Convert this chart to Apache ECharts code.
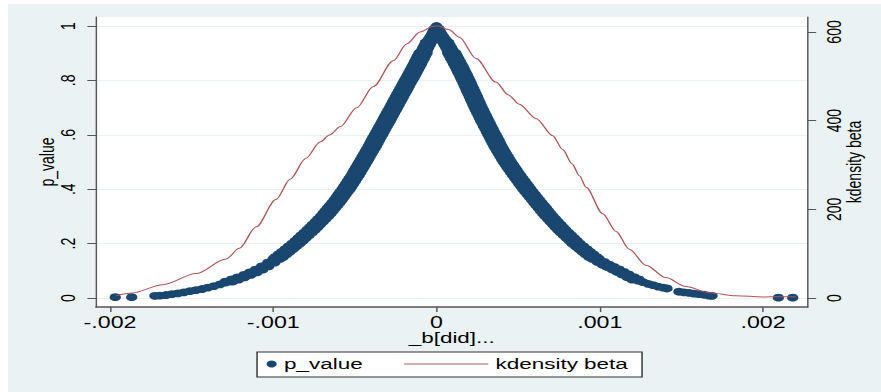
<!DOCTYPE html>
<html>
<head>
<meta charset="utf-8">
<script src="https://cdn.jsdelivr.net/npm/echarts@6/dist/echarts.min.js"></script>
<style>
  html, body { margin: 0; padding: 0; background: #fff; }
  #bg { position: absolute; left: 8px; top: 4px; width: 873px; height: 388px; background: #eaf2f3; }
  /* the original graph was stretched sideways, so draw narrow and scale x */
  #main { position: absolute; left: 0; top: 0; width: 608px; height: 392px; transform: scaleX(1.449); transform-origin: 0 0; }
</style>
</head>
<body>
<div id="bg"></div>
<div id="main"></div>
<script>
// p_value against _b[did]: the steep part is read as two edges of the band
const steepP = [
  0.99, 0.98, 0.97, 0.96, 0.95, 0.94, 0.93, 0.92, 0.91, 0.90,
  0.89, 0.88, 0.87, 0.86, 0.85, 0.84, 0.83, 0.82, 0.81, 0.80,
  0.79, 0.78, 0.77, 0.76, 0.75, 0.74, 0.73, 0.72, 0.71, 0.70,
  0.69, 0.68, 0.67, 0.66, 0.65, 0.64, 0.63, 0.62, 0.61, 0.60,
  0.59, 0.58, 0.57, 0.56, 0.55, 0.54, 0.53, 0.52, 0.51, 0.50,
  0.49, 0.48, 0.47, 0.46, 0.45, 0.44, 0.43, 0.42, 0.41, 0.40,
  0.39, 0.38, 0.37, 0.36, 0.35, 0.34, 0.33, 0.32, 0.31, 0.30,
  0.29, 0.28, 0.27, 0.26, 0.25, 0.24, 0.23, 0.22, 0.21, 0.20,
  0.19, 0.18, 0.17, 0.16, 0.15
];
const leftEdgeA = [
  -0.000002, -0.000022, -0.000018, -0.000040, -0.000028, -0.000067, -0.000039, -0.000084, -0.000056, -0.000108,
  -0.000067, -0.000125, -0.000084, -0.000142, -0.000101, -0.000160, -0.000119, -0.000178, -0.000137, -0.000197,
  -0.000156, -0.000215, -0.000174, -0.000233, -0.000193, -0.000252, -0.000211, -0.000270, -0.000229, -0.000288,
  -0.000247, -0.000307, -0.000266, -0.000325, -0.000284, -0.000343, -0.000303, -0.000362, -0.000321, -0.000380,
  -0.000340, -0.000399, -0.000358, -0.000417, -0.000376, -0.000436, -0.000396, -0.000456, -0.000415, -0.000475,
  -0.000435, -0.000495, -0.000455, -0.000514, -0.000474, -0.000535, -0.000496, -0.000557, -0.000518, -0.000579,
  -0.000542, -0.000604, -0.000566, -0.000628, -0.000591, -0.000655, -0.000619, -0.000683, -0.000647, -0.000711,
  -0.000678, -0.000744, -0.000711, -0.000777, -0.000744, -0.000812, -0.000781, -0.000849, -0.000817, -0.000886,
  -0.000857, -0.000927, -0.000898, -0.000969, -0.000940
];
const leftEdgeB = [
  -0.000014, -0.000010, -0.000030, -0.000024, -0.000052, -0.000031, -0.000075, -0.000048, -0.000092, -0.000058,
  -0.000117, -0.000075, -0.000134, -0.000092, -0.000151, -0.000110, -0.000169, -0.000128, -0.000187, -0.000147,
  -0.000206, -0.000165, -0.000224, -0.000183, -0.000243, -0.000202, -0.000261, -0.000220, -0.000279, -0.000238,
  -0.000297, -0.000257, -0.000316, -0.000275, -0.000334, -0.000293, -0.000353, -0.000312, -0.000371, -0.000330,
  -0.000390, -0.000349, -0.000408, -0.000367, -0.000426, -0.000386, -0.000446, -0.000406, -0.000465, -0.000425,
  -0.000485, -0.000445, -0.000505, -0.000464, -0.000524, -0.000485, -0.000546, -0.000507, -0.000568, -0.000529,
  -0.000592, -0.000554, -0.000616, -0.000578, -0.000641, -0.000605, -0.000669, -0.000633, -0.000697, -0.000661,
  -0.000728, -0.000694, -0.000761, -0.000727, -0.000794, -0.000762, -0.000831, -0.000799, -0.000867, -0.000836,
  -0.000907, -0.000877, -0.000948, -0.000919, -0.000990
];
const rightEdgeA = [
  0.000003, 0.000024, 0.000022, 0.000045, 0.000034, 0.000074, 0.000047, 0.000093, 0.000066, 0.000119,
  0.000078, 0.000137, 0.000096, 0.000155, 0.000114, 0.000172, 0.000130, 0.000189, 0.000147, 0.000205,
  0.000163, 0.000220, 0.000178, 0.000235, 0.000193, 0.000251, 0.000208, 0.000266, 0.000223, 0.000281,
  0.000239, 0.000297, 0.000256, 0.000314, 0.000272, 0.000331, 0.000289, 0.000348, 0.000306, 0.000365,
  0.000324, 0.000383, 0.000341, 0.000400, 0.000359, 0.000419, 0.000379, 0.000439, 0.000399, 0.000459,
  0.000421, 0.000482, 0.000444, 0.000505, 0.000467, 0.000529, 0.000492, 0.000554, 0.000517, 0.000579,
  0.000542, 0.000606, 0.000569, 0.000633, 0.000596, 0.000660, 0.000624, 0.000687, 0.000651, 0.000715,
  0.000681, 0.000746, 0.000712, 0.000777, 0.000743, 0.000810, 0.000778, 0.000845, 0.000813, 0.000880,
  0.000851, 0.000922, 0.000892, 0.000963, 0.000934
];
const rightEdgeB = [
  0.000015, 0.000012, 0.000034, 0.000029, 0.000058, 0.000038, 0.000083, 0.000057, 0.000102, 0.000069,
  0.000128, 0.000087, 0.000146, 0.000105, 0.000164, 0.000122, 0.000180, 0.000139, 0.000197, 0.000155,
  0.000213, 0.000170, 0.000228, 0.000185, 0.000243, 0.000201, 0.000258, 0.000216, 0.000273, 0.000231,
  0.000289, 0.000247, 0.000306, 0.000264, 0.000322, 0.000281, 0.000339, 0.000298, 0.000356, 0.000315,
  0.000374, 0.000333, 0.000391, 0.000350, 0.000409, 0.000369, 0.000429, 0.000389, 0.000449, 0.000409,
  0.000471, 0.000432, 0.000494, 0.000455, 0.000517, 0.000479, 0.000542, 0.000504, 0.000567, 0.000529,
  0.000592, 0.000556, 0.000619, 0.000583, 0.000646, 0.000610, 0.000674, 0.000637, 0.000701, 0.000665,
  0.000731, 0.000696, 0.000762, 0.000727, 0.000793, 0.000760, 0.000828, 0.000795, 0.000863, 0.000830,
  0.000901, 0.000872, 0.000942, 0.000913, 0.000984
];
const leftTailBeta = [
  -0.001001, -0.000957, -0.000995, -0.001034, -0.000990, -0.001032, -0.001072, -0.001028, -0.001069, -0.001109,
  -0.001065, -0.001106, -0.001144, -0.001100, -0.001142, -0.001180, -0.001136, -0.001179, -0.001219, -0.001175,
  -0.001216, -0.001256, -0.001212, -0.001253, -0.001294, -0.001250, -0.001289, -0.001326, -0.001363, -0.001400,
  -0.001436, -0.001473, -0.001510, -0.001547, -0.001583, -0.001620, -0.001657, -0.001694, -0.001725, -0.001867,
  -0.001968
];
const leftTailP = [
  0.144, 0.144, 0.137, 0.130, 0.130, 0.122, 0.116, 0.116, 0.110, 0.104,
  0.104, 0.098, 0.094, 0.094, 0.089, 0.085, 0.085, 0.080, 0.076, 0.076,
  0.072, 0.068, 0.068, 0.064, 0.060, 0.060, 0.057, 0.050, 0.044, 0.038,
  0.033, 0.029, 0.025, 0.021, 0.017, 0.014, 0.011, 0.009, 0.008, 0.003,
  0.003
];
const rightTailBeta = [
  0.000953, 0.000997, 0.000989, 0.000984, 0.001028, 0.001020, 0.001014, 0.001058, 0.001051, 0.001044,
  0.001088, 0.001082, 0.001076, 0.001120, 0.001112, 0.001105, 0.001149, 0.001143, 0.001134, 0.001178,
  0.001173, 0.001166, 0.001210, 0.001204, 0.001197, 0.001241, 0.001234, 0.001265, 0.001296, 0.001326,
  0.001357, 0.001388, 0.001412, 0.001485, 0.001516, 0.001547, 0.001577, 0.001608, 0.001639, 0.001669,
  0.001688, 0.002094, 0.002182
];
const rightTailP = [
  0.144, 0.144, 0.139, 0.133, 0.133, 0.128, 0.123, 0.123, 0.118, 0.114,
  0.114, 0.110, 0.105, 0.105, 0.101, 0.096, 0.096, 0.091, 0.087, 0.087,
  0.082, 0.077, 0.077, 0.072, 0.068, 0.068, 0.064, 0.058, 0.052, 0.047,
  0.042, 0.038, 0.035, 0.023, 0.021, 0.019, 0.016, 0.014, 0.012, 0.009,
  0.008, 0.001, 0.001
];
const peakPoint = [0, 1];

// kdensity of beta
const kdBeta = [
  -0.001963, -0.001867, -0.001677, -0.001473, -0.001289, -0.001208, -0.001106, -0.000983, -0.000897, -0.000800,
  -0.000714, -0.000652, -0.000591, -0.000489, -0.000387, -0.000265, -0.000183, -0.000101, -0.000020, 0.000005,
  0.000078, 0.000140, 0.000242, 0.000364, 0.000440, 0.000507, 0.000609, 0.000712, 0.000773, 0.000830,
  0.000875, 0.000916, 0.001018, 0.001100, 0.001181, 0.001283, 0.001405, 0.001528, 0.001671, 0.001835,
  0.001998, 0.002121, 0.002202
];
const kdDensity = [
  5, 11, 30, 55, 88, 112, 160, 222, 268, 315,
  352, 368, 386, 429, 477, 535, 573, 600, 613, 614,
  605, 588, 540, 487, 458, 437, 405, 366, 335, 303,
  276, 250, 190, 150, 110, 74, 46, 26, 12, 5,
  2.5, 3, 3
];

const xTicks = [-0.002, -0.001, 0, 0.001, 0.002];
const pTicks = [0, 0.2, 0.4, 0.6, 0.8, 1];
const densityTicks = [0, 200, 400, 600];

const font = "'Liberation Sans', Arial, sans-serif";
const axisColor = '#555';
const navy = '#1a476f';
const maroon = '#ad5458';

// stata style numbers: .2, -.001
function stataNum(v, digits) {
  const t = (+v.toFixed(digits)).toString();
  return t.replace(/^(-?)0\./, '$1.');
}

const pairs = (xs, ys) => xs.map((x, i) => [x, ys[i]]);
const scatterData = [peakPoint].concat(
  pairs(leftEdgeA, steepP), pairs(leftEdgeB, steepP),
  pairs(rightEdgeA, steepP), pairs(rightEdgeB, steepP),
  pairs(leftTailBeta, leftTailP), pairs(rightTailBeta, rightTailP)
);

const chart = echarts.init(document.getElementById('main'), null, { renderer: 'svg' });

chart.setOption({
  animation: false,
  backgroundColor: 'transparent',
  textStyle: { fontFamily: font },
  grid: {
    left: 66.25, right: 50.72, top: 17, bottom: 85,
    show: true, backgroundColor: '#fff', borderWidth: 0,
    outerBoundsMode: 'none'
  },
  graphic: [{
    type: 'rect',
    shape: { x: 177.4, y: 352, width: 265.7, height: 25 },
    style: { fill: '#fff', stroke: '#333', lineWidth: 1 }
  }],
  legend: [{
    left: 184, top: 356, padding: 0,
    itemWidth: 7, itemHeight: 7,
    selectedMode: false,
    data: [{ name: 'p_value', icon: 'circle' }],
    textStyle: { fontSize: 15.5, color: '#000', fontFamily: font }
  }, {
    left: 279, top: 356, padding: 0,
    itemWidth: 58, itemHeight: 1.2,
    selectedMode: false,
    data: [{ name: 'kdensity beta', icon: 'rect' }],
    textStyle: { fontSize: 15.5, color: '#000', fontFamily: font }
  }],
  xAxis: {
    type: 'value',
    min: -0.0020858, max: 0.0022726,
    name: '_b[did]...',
    nameLocation: 'middle', nameGap: 23,
    nameMoveOverlap: false,
    nameTextStyle: { fontSize: 15.5, color: '#000', fontFamily: font },
    axisLine: { onZero: false, lineStyle: { color: axisColor, width: 1.5 } },
    axisTick: { customValues: xTicks, length: 5, lineStyle: { color: axisColor } },
    axisLabel: {
      customValues: xTicks, margin: 7, fontSize: 16, color: '#000',
      formatter: v => stataNum(v, 3)
    },
    splitLine: { show: false }
  },
  yAxis: [{
    type: 'value', position: 'left',
    min: -0.0331, max: 1.0331,
    name: 'p_value',
    nameLocation: 'middle', nameGap: 27,
    nameMoveOverlap: false,
    nameTextStyle: { fontSize: 14, color: '#000', fontFamily: font },
    axisLine: { show: true, onZero: false, lineStyle: { color: axisColor, width: 1 } },
    axisTick: { show: true, customValues: pTicks, length: 6, lineStyle: { color: axisColor } },
    axisLabel: {
      customValues: pTicks, rotate: 90, margin: 12, fontSize: 14, color: '#000',
      formatter: v => stataNum(v, 1)
    },
    splitLine: { show: true, lineStyle: { color: '#e9f1f3', width: 1 } }
  }, {
    type: 'value', position: 'right',
    min: -20.3, max: 633.8,
    name: 'kdensity beta',
    nameLocation: 'middle', nameGap: 25,
    nameMoveOverlap: false,
    nameTextStyle: { fontSize: 14, color: '#000', fontFamily: font },
    axisLine: { show: true, onZero: false, lineStyle: { color: axisColor, width: 1 } },
    axisTick: { show: true, customValues: densityTicks, length: 6, lineStyle: { color: axisColor } },
    axisLabel: {
      customValues: densityTicks, rotate: 90, margin: 11, fontSize: 14, color: '#000',
      formatter: v => stataNum(v, 0)
    },
    splitLine: { show: false }
  }],
  series: [{
    type: 'scatter',
    name: 'p_value',
    yAxisIndex: 0,
    symbol: 'circle',
    symbolSize: 7.8,
    itemStyle: { color: navy, opacity: 1 },
    silent: true,
    data: scatterData
  }, {
    type: 'line',
    name: 'kdensity beta',
    yAxisIndex: 1,
    symbol: 'none',
    smooth: 0.3,
    smoothMonotone: 'x',
    lineStyle: { color: maroon, width: 1 },
    itemStyle: { color: maroon },
    silent: true,
    data: pairs(kdBeta, kdDensity)
  }]
});
</script>
</body>
</html>
